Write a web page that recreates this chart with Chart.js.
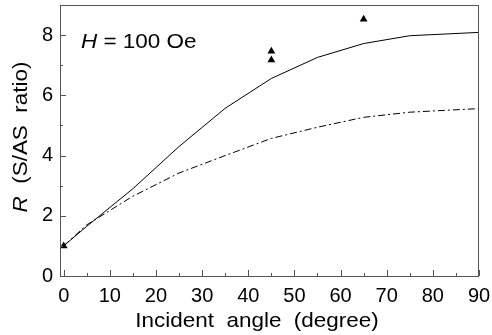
<!DOCTYPE html>
<html>
<head>
<meta charset="utf-8">
<script src="https://cdn.jsdelivr.net/npm/chart.js@4/dist/chart.umd.min.js"></script>
<style>
  html, body { margin: 0; padding: 0; background: #fff; }
  #wrap { width: 492px; height: 335px; }
</style>
</head>
<body>
<div id="wrap"><canvas id="myChart" width="492" height="335"></canvas></div>
<script>
// data
var angles = [0, 5, 15, 25, 35, 45, 55, 65, 75, 90];
var solidR = [1.0, 1.65, 2.9, 4.3, 5.57, 6.56, 7.26, 7.72, 7.98, 8.09];
var dashR = [1.0, 1.7, 2.65, 3.42, 4.0, 4.57, 4.94, 5.27, 5.44, 5.56];
var expAngles = [0, 45, 45, 65];
var expR = [1.0, 7.46, 7.17, 8.53];
var xTicks = [0, 10, 20, 30, 40, 50, 60, 70, 80, 90];
var yTicks = [0, 2, 4, 6, 8];

var FONT = "'Liberation Sans', Arial, sans-serif";

function pts(xs, ys) {
  return xs.map(function(x, i) { return { x: x, y: ys[i] }; });
}

function stepTicks(lo, hi, step) {
  var out = [];
  for (var v = lo; v <= hi + 1e-9; v += step) out.push({ value: v });
  return out;
}

// draws a string made of [text, italic] parts, slightly widened like the scan
function parts(c, list, x, y, size, align) {
  var sx = 1.07, total = 0;
  list.forEach(function(p) {
    c.font = (p[1] ? 'italic ' : '') + size + 'px ' + FONT;
    p.w = c.measureText(p[0]).width;
    total += p.w;
  });
  var start = align === 'center' ? -total / 2 : 0;
  c.save();
  c.translate(x, y);
  c.scale(sx, 1);
  c.textAlign = 'left';
  list.forEach(function(p) {
    c.font = (p[1] ? 'italic ' : '') + size + 'px ' + FONT;
    c.fillText(p[0], start, 0);
    start += p.w;
  });
  c.restore();
}

// frame, inside ticks and titles
var decor = {
  id: 'decor',
  afterDraw: function(chart) {
    var c = chart.ctx, a = chart.chartArea;
    var xs = chart.scales.x, ys = chart.scales.y;
    c.save();
    c.strokeStyle = '#555';
    c.lineWidth = 1;
    c.strokeRect(a.left + 0.5, a.top + 0.5, a.right - a.left - 1, a.bottom - a.top);
    c.beginPath();
    xs.ticks.forEach(function(t) {
      var px = Math.round(xs.getPixelForValue(t.value)) + 0.5;
      var len = xTicks.indexOf(t.value) >= 0 ? 6 : 3;
      c.moveTo(px, a.bottom);
      c.lineTo(px, a.bottom - len);
    });
    ys.ticks.forEach(function(t) {
      var py = Math.round(ys.getPixelForValue(t.value)) + 0.5;
      var len = yTicks.indexOf(t.value) >= 0 ? 6 : 3;
      c.moveTo(a.left, py);
      c.lineTo(a.left + len, py);
    });
    c.stroke();

    c.fillStyle = '#000';
    c.textBaseline = 'alphabetic';
    parts(c, [['H', true], [' = 100 Oe', false]], 81, 48, 21, 'left');
    parts(c, [['Incident  angle  (degree)', false]], 257, 327, 21, 'center');

    c.save();
    c.translate(27, 137);
    c.rotate(-Math.PI / 2);
    parts(c, [['R', true], ['  (S/AS  ratio)', false]], 0, 0, 21, 'center');
    c.restore();
    c.restore();
  }
};

var ctx = document.getElementById('myChart').getContext('2d');
var myChart = new Chart(ctx, {
  type: 'scatter',
  data: {
    datasets: [
      {
        label: 'solid',
        data: pts(angles, solidR),
        showLine: true,
        borderColor: '#000',
        borderWidth: 1,
        pointRadius: 0,
        tension: 0
      },
      {
        label: 'dash-dot',
        data: pts(angles, dashR),
        showLine: true,
        borderColor: '#000',
        borderWidth: 1,
        borderDash: [7, 3, 2, 3],
        pointRadius: 0,
        tension: 0
      },
      {
        label: 'measured',
        data: pts(expAngles, expR),
        showLine: false,
        pointStyle: 'triangle',
        pointRadius: 4.5,
        backgroundColor: '#000',
        borderColor: '#000',
        borderWidth: 0
      }
    ]
  },
  options: {
    responsive: false,
    animation: false,
    layout: { padding: { top: 5, right: 13, left: 0, bottom: 0 } },
    plugins: { legend: { display: false }, tooltip: { enabled: false } },
    scales: {
      x: {
        type: 'linear',
        min: -0.8,
        max: 90,
        afterBuildTicks: function(s) { s.ticks = stepTicks(0, 90, 5); },
        afterFit: function(s) {
          s.height = 59;
          s.paddingLeft = 0;
          s.paddingRight = 0;
        },
        grid: { display: false, drawTicks: false },
        border: { display: false },
        ticks: {
          autoSkip: false,
          maxRotation: 0,
          padding: 8,
          color: '#000',
          font: { family: FONT, size: 20 },
          callback: function(v) { return xTicks.indexOf(v) >= 0 ? String(v) : ''; }
        }
      },
      y: {
        min: 0,
        max: 9,
        afterBuildTicks: function(s) { s.ticks = stepTicks(0, 9, 1); },
        afterFit: function(s) {
          s.width = 60;
          s.paddingTop = 0;
          s.paddingBottom = 0;
        },
        grid: { display: false, drawTicks: false },
        border: { display: false },
        ticks: {
          autoSkip: false,
          padding: 7,
          color: '#000',
          font: { family: FONT, size: 20 },
          callback: function(v) { return yTicks.indexOf(v) >= 0 ? String(v) : ''; }
        }
      }
    }
  },
  plugins: [decor]
});
</script>
</body>
</html>
